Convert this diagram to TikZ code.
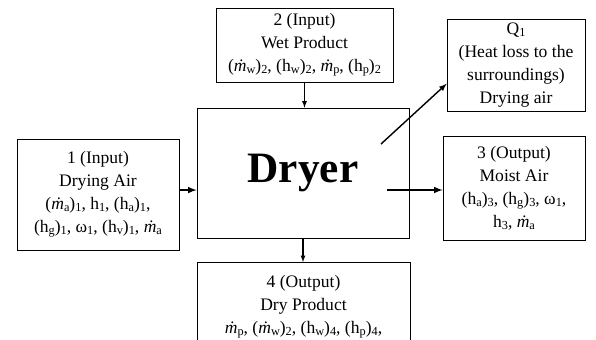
\documentclass[tikz,border=0pt]{standalone}
\usepackage{fontspec}
\setmainfont{Liberation Serif}

\newcommand{\sbs}[1]{\raisebox{-0.25ex}{\fontsize{10.5}{10.5}\selectfont #1}}
\newcommand{\md}{\textit{\.{m}}}

\begin{document}
\begin{tikzpicture}[> = latex, x = 0.03cm, y = -0.03cm,
	box/.style = {draw, line width = 0.6pt, align = center, inner sep = 0pt,
		font = \fontsize{15}{19.5}\selectfont},
	flow/.style = {->, line width = 1.5pt}]

	\useasboundingbox (0, 0) rectangle (596, 339);

	% Dryer

	\node [box, minimum width = 6.36cm, minimum height = 3.9cm,
		font = \fontsize{37}{40}\selectfont\bfseries] (dryer) at (303, 173) {Dryer};

	% Inputs

	\node [box, minimum width = 4.86cm, minimum height = 3.33cm] (in1) at (98, 194.5)
		{1 (Input)\\Drying Air\\(\md\sbs{a})\sbs{1}, h\sbs{1}, (h\sbs{a})\sbs{1},\\(h\sbs{g})\sbs{1}, ω\sbs{1}, (h\sbs{v})\sbs{1}, \md\sbs{a}};
	\node [box, minimum width = 5.31cm, minimum height = 2.22cm] (in2) at (304.5, 45)
		{2 (Input)\\Wet Product\\(\md\sbs{w})\sbs{2}, (h\sbs{w})\sbs{2}, \md\sbs{p}, (h\sbs{p})\sbs{2}};

	% Outputs

	\node [box, minimum width = 4.14cm, minimum height = 2.76cm] (q1) at (516, 65)
		{Q\sbs{1}\\(Heat loss to the\\surroundings)\\Drying air};
	\node [box, minimum width = 4.26cm, minimum height = 3.12cm] (out3) at (514, 188)
		{3 (Output)\\Moist Air\\(h\sbs{a})\sbs{3}, (h\sbs{g})\sbs{3}, ω\sbs{1},\\h\sbs{3}, \md\sbs{a}};
	\node [box, minimum width = 6.39cm, inner ysep = 11pt, anchor = north] (out4) at (303.5, 262)
		{4 (Output)\\Dry Product\\\md\sbs{p}, (\md\sbs{w})\sbs{2}, (h\sbs{w})\sbs{4}, (h\sbs{p})\sbs{4},\\ \strut\\ \strut};

	% Arrows

	\coordinate (loss) at (381, 144);
	\coordinate (moist) at (387, 190);

	\draw [->, line width = 0.9pt] (in2.south) -- (in2.south |- dryer.north);
	\draw [->, line width = 0.9pt] (dryer.south) -- (dryer.south |- out4.north);
	\draw [flow] ([yshift = 3.8pt] in1.east) -- ([yshift = 3.8pt] in1.east -| dryer.west);
	\draw [flow] (moist) -- (moist -| out3.west);
	\draw [->, line width = 1.2pt] (loss) -- ([yshift = -16pt] q1.west);

\end{tikzpicture}
\end{document}
